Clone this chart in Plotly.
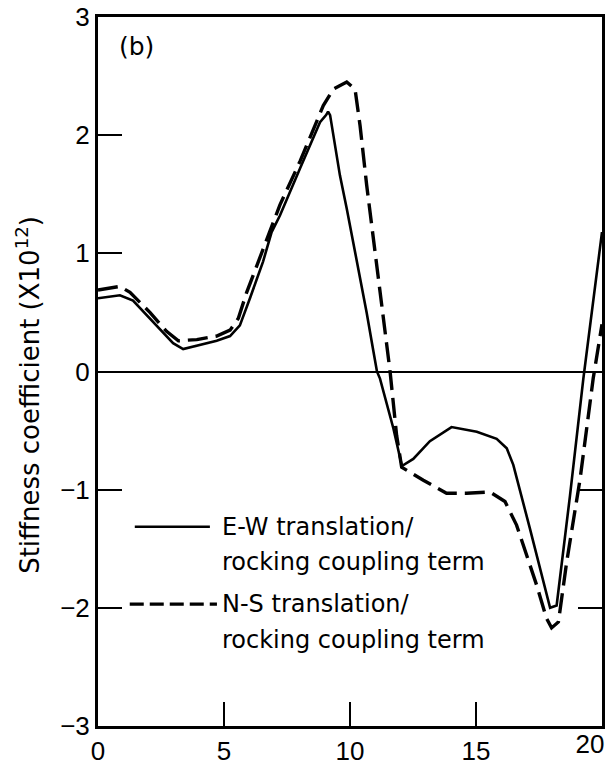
import plotly.graph_objects as go

# Frequency axis values and coupling stiffness (x 10^12) for each direction
ew_freq = [0, 0.87, 1.39, 2.33, 2.98, 3.38, 3.92, 4.71, 5.24, 5.63, 6.03, 6.55, 6.89,
           7.22, 8.02, 8.81, 9.05, 9.13, 9.21, 9.40, 9.60, 9.87, 10.13, 10.40, 10.66, 10.93,
           11.07, 11.19, 11.72, 12.06, 12.51, 13.17, 14.03, 15.03, 15.82, 16.22, 16.48,
           17.14, 17.94, 18.20, 18.73, 19.26, 20.0]
ew_stiff = [0.62, 0.645, 0.60, 0.39, 0.24, 0.19, 0.22, 0.26, 0.30, 0.39, 0.62, 0.93, 1.18,
            1.32, 1.72, 2.11, 2.17, 2.20, 2.17, 1.91, 1.66, 1.38, 1.10, 0.81, 0.50, 0.17,
            0.0, -0.06, -0.48, -0.80, -0.74, -0.59, -0.47, -0.51, -0.57, -0.65, -0.79,
            -1.33, -2.00, -1.98, -1.05, -0.06, 1.18]

ns_freq = [0, 0.87, 1.27, 2.06, 2.72, 3.19, 3.92, 4.71, 5.24, 5.57, 5.90, 6.56,
           7.22, 8.02, 8.94, 9.34, 9.87, 10.20, 10.40, 10.66, 11.06, 11.46, 11.59,
           11.85, 12.05, 12.91, 13.83, 14.63, 15.56, 16.15, 16.61, 17.41, 17.80, 18.0,
           18.27, 18.60, 19.13, 19.65, 20.0]
ns_stiff = [0.69, 0.72, 0.67, 0.50, 0.34, 0.26, 0.27, 0.30, 0.35, 0.45, 0.67, 1.04,
            1.41, 1.78, 2.25, 2.39, 2.45, 2.39, 2.08, 1.58, 0.90, 0.25, 0.0,
            -0.54, -0.81, -0.92, -1.03, -1.03, -1.02, -1.10, -1.30, -1.81, -2.09, -2.17,
            -2.12, -1.61, -0.91, -0.06, 0.40]

x_ticks = [0, 5, 10, 15]
x_end_tick = [20]          # labelled on its own axis, nudged inward from the edge
y_ticks = [-3, -2, -1, 0, 1, 2, 3]
right_ticks = [-1, -2]

ew_label = ["E-W translation/", "rocking coupling term"]
ns_label = ["N-S translation/", "rocking coupling term"]
y_title = "Stiffness coefficient (X10<sup>12</sup>)"

TXT = "DejaVu Sans"
NUM = "Liberation Sans"

fig = go.Figure()
fig.add_trace(go.Scatter(x=ew_freq, y=ew_stiff, mode="lines",
                         line=dict(color="black", width=2.6), showlegend=False))
fig.add_trace(go.Scatter(x=ns_freq, y=ns_stiff, mode="lines",
                         line=dict(color="black", width=3.4, dash="20px,8px"),
                         showlegend=False))
# carrier for the secondary axes (right-hand ticks, end label)
fig.add_trace(go.Scatter(x=[None], y=[None], xaxis="x2", yaxis="y2",
                         showlegend=False, hoverinfo="skip"))

fig.update_layout(
    width=616, height=766,
    margin=dict(l=98, r=14, t=17, b=40),
    paper_bgcolor="white", plot_bgcolor="white",
    font=dict(family=NUM, color="black"),
    xaxis=dict(range=[0, 20], tickvals=x_ticks,
               ticks="inside", ticklen=24, ticklabeloverflow="allow",
               tickwidth=2, tickcolor="black", showline=True, linewidth=3,
               linecolor="black", mirror=True, showgrid=False, zeroline=False,
               automargin=False, tickfont=dict(size=26, family=NUM)),
    xaxis2=dict(range=[0, 20], overlaying="x", side="bottom", anchor="y",
                tickvals=x_end_tick, ticks="", ticklabelshift=-12,
                ticklabeloverflow="allow", showline=False, showgrid=False,
                zeroline=False, automargin=False,
                tickfont=dict(size=26, family=NUM)),
    yaxis=dict(range=[-3, 3], tickvals=y_ticks, ticks="inside", ticklen=24,
               tickwidth=2, tickcolor="black", showline=True, linewidth=3,
               linecolor="black", mirror=True, showgrid=False,
               zeroline=True, zerolinewidth=1.6, zerolinecolor="black",
               ticklabeloverflow="allow",
               automargin=False, tickfont=dict(size=26, family=NUM)),
    yaxis2=dict(range=[-3, 3], overlaying="y", side="right", anchor="x",
                tickvals=right_ticks, ticks="inside", ticklen=24, tickwidth=2,
                tickcolor="black", showticklabels=False, showgrid=False,
                zeroline=False, showline=False, automargin=False),
)

# vertical axis title
fig.add_annotation(x=-0.139, y=0.467, xref="paper", yref="paper", text=y_title,
                   textangle=-90, showarrow=False, xanchor="center", yanchor="middle",
                   font=dict(size=26, family=TXT))

# panel label
fig.add_annotation(x=0.037, y=0.958, xref="paper", yref="paper", text="(b)",
                   showarrow=False, xanchor="left", yanchor="middle",
                   font=dict(size=25, family=TXT))

# key: sample lines and labels
fig.add_shape(type="line", xref="paper", yref="paper", x0=0.073, x1=0.222,
              y0=0.281, y1=0.281, line=dict(color="black", width=2.6))
fig.add_shape(type="line", xref="paper", yref="paper", x0=0.063, x1=0.236,
              y0=0.172, y1=0.172, line=dict(color="black", width=3.2, dash="14px,6px"))
for txt, yp in zip(ew_label, [0.281, 0.231]):
    fig.add_annotation(x=0.242, y=yp, xref="paper", yref="paper", text=txt,
                       showarrow=False, xanchor="left", yanchor="middle",
                       font=dict(size=24, family=TXT))
for txt, yp in zip(ns_label, [0.172, 0.121]):
    fig.add_annotation(x=0.242, y=yp, xref="paper", yref="paper", text=txt,
                       showarrow=False, xanchor="left", yanchor="middle",
                       font=dict(size=24, family=TXT))

fig.write_html("out.html")
